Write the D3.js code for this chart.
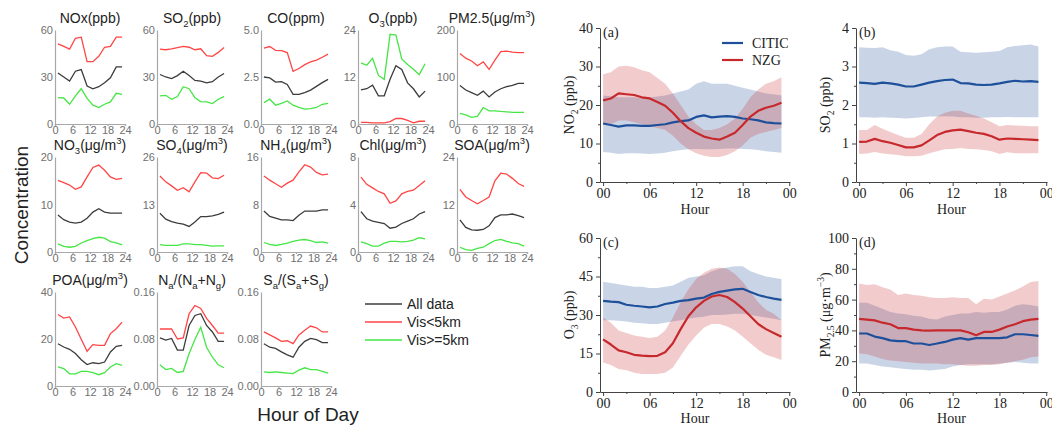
<!DOCTYPE html>
<html><head><meta charset="utf-8">
<script src="https://cdn.jsdelivr.net/npm/d3@7"></script>
<style>body{margin:0;background:#fff} svg{display:block}</style>
</head><body>
<svg id="c" width="1052" height="425"></svg>
<script>
// ---------- Left small multiples data (2-hourly) ----------
const hoursL = [1,3,5,7,9,11,13,15,17,19,21,23];
const xTicksL = [0,6,12,18,24];
const seriesNames = ["All data","Vis<5km","Vis>=5km"];

const noxAll  = [32.6,30.0,27.4,33.7,34.7,24.2,22.5,23.8,26.3,29.5,36.4,36.4];
const noxLow  = [51.2,49.5,47.8,54.7,55.4,39.8,39.8,43.2,49.0,49.5,55.4,55.4];
const noxHigh = [16.8,16.6,12.6,17.9,22.5,16.4,12.0,10.5,12.6,14.1,19.6,18.9];

const so2All  = [31.6,30.0,29.0,30.9,33.7,30.9,27.8,27.4,26.3,27.0,30.0,32.2];
const so2Low  = [47.8,47.4,48.0,48.8,49.5,49.0,47.4,48.0,43.6,43.2,45.7,48.8];
const so2High = [17.9,18.3,15.8,17.5,23.8,22.5,16.8,14.3,14.1,13.0,15.8,17.5];

const coAll  = [2.50,2.45,2.23,2.25,2.10,1.58,1.58,1.67,1.80,2.00,2.20,2.37];
const coLow  = [4.04,4.12,3.92,3.90,3.80,2.80,2.95,3.16,3.30,3.40,3.55,3.72];
const coHigh = [1.14,1.32,1.00,1.10,1.23,1.00,0.88,0.79,0.82,0.88,1.05,1.10];

const o3All  = [8.7,9.0,9.9,7.2,7.2,11.4,14.9,13.9,10.5,9.0,6.9,8.4];
const o3Low  = [0.4,0.4,0.3,0.3,0.3,0.6,1.4,1.4,0.9,0.3,0.7,0.7];
const o3High = [15.6,15.0,16.8,12.4,11.4,22.9,22.7,16.6,15.2,14.0,12.6,15.4];

const pmAll  = [82,72.3,66.7,61,70,57.5,68,75,79.3,82,86.3,86.3];
const pmLow  = [150,140,134,124,132,116,136,154,155,153,152,152];
const pmHigh = [22.5,19.6,14,16,35,28,28,26.7,26,24.6,24.6,24.6];

const no3All  = [7.8,6.8,6.3,6.1,6.3,7.1,8.4,9.1,8.4,8.2,8.2,8.2];
const no3Low  = [15.1,14.6,14.1,13.2,13.7,15.8,17.8,18.3,17.2,15.8,15.3,15.5];
const no3High = [1.7,1.2,1.0,1.2,1.9,2.4,2.8,3.1,2.9,2.2,1.9,1.5];

const so4All  = [10.6,9.0,8.3,7.9,7.6,7.0,8.2,9.7,9.7,9.9,10.3,10.9];
const so4Low  = [20.8,19.2,18.1,16.9,17.6,16.5,19.2,21.7,21.6,20.3,20.1,21.0];
const so4High = [2.0,1.8,1.8,1.8,2.2,2.2,2.0,2.0,1.8,1.6,1.7,1.7];

const nh4All  = [6.9,6.0,5.7,5.4,5.4,5.3,6.2,6.9,6.9,6.9,7.1,7.1];
const nh4Low  = [12.8,12.1,11.5,10.9,11.6,12.1,13.5,14.7,14.3,13.4,13.0,13.1];
const nh4High = [1.6,1.3,1.1,1.3,1.5,1.8,2.0,2.1,1.9,1.6,1.7,1.5];

const chlAll  = [3.4,2.8,2.6,2.5,2.4,2.0,2.1,2.4,2.6,2.8,3.2,3.4];
const chlLow  = [6.3,5.7,5.4,5.1,4.9,4.1,4.3,4.9,5.1,5.2,5.6,6.0];
const chlHigh = [0.85,0.7,0.5,0.5,0.75,0.9,0.9,0.85,0.9,1.0,1.2,1.1];

const soaAll  = [8.1,6.2,5.6,5.5,5.7,6.6,8.7,9.4,9.4,9.6,9.2,8.7];
const soaLow  = [15.8,13.9,13.0,12.2,13.0,13.9,18.0,19.9,19.7,18.6,17.3,16.6];
const soaHigh = [1.2,0.6,0.4,0.9,1.2,2.1,2.9,3.2,2.7,2.3,2.1,1.5];

const poaAll  = [18.0,16.6,15.6,13.8,11.2,9.1,9.9,9.5,10.2,14.5,16.9,17.3];
const poaLow  = [30.4,28.9,29.4,25.1,19.9,14.8,17.6,17.3,17.3,22.3,24.4,27.2];
const poaHigh = [8.1,7.4,5.2,5.2,6.2,6.2,5.7,4.8,5.7,8.1,9.5,8.8];

const naAll  = [0.082,0.078,0.081,0.061,0.061,0.103,0.120,0.123,0.103,0.092,0.076,0.076];
const naLow  = [0.097,0.097,0.097,0.080,0.082,0.123,0.137,0.132,0.115,0.103,0.090,0.090];
const naHigh = [0.036,0.028,0.030,0.023,0.025,0.055,0.079,0.100,0.066,0.049,0.036,0.031];

const saAll  = [0.072,0.066,0.064,0.058,0.053,0.049,0.066,0.076,0.081,0.079,0.074,0.074];
const saLow  = [0.092,0.087,0.082,0.076,0.077,0.072,0.087,0.095,0.102,0.099,0.092,0.092];
const saHigh = [0.024,0.023,0.024,0.023,0.022,0.021,0.027,0.031,0.028,0.028,0.025,0.022];

const yTicksNox=[0,30,60], yTicksSo2=[0,30,60], yTicksCo=[0,2.5,5], yTicksO3=[0,12,24], yTicksPm=[0,100,200];
const yTicksNo3=[0,10,20], yTicksSo4=[0,13,26], yTicksNh4=[0,8,16], yTicksChl=[0,4,8], yTicksSoa=[0,12,24];
const yTicksPoa=[0,20,40], yTicksNa=[0,0.08,0.16], yTicksSa=[0,0.08,0.16];

// ---------- Right panels data (hourly, mean and band) ----------
const hoursR = d3.range(0,24);
const xTickLabelsR = ["00","06","12","18","00"];
const siteNames = ["CITIC","NZG"];

const no2Citic   = [15.2,14.8,14.4,14.7,14.7,14.6,14.6,14.8,15.0,15.5,15.8,16.0,16.9,17.3,16.8,17.0,17.1,16.9,16.5,16.3,16.0,15.5,15.3,15.2];
const no2CiticHi = [22.5,22.3,22.0,22.0,22.0,21.8,22.0,22.2,22.5,23.0,23.5,24.0,25.5,26.2,25.5,25.5,25.5,25.0,24.5,24.0,23.5,23.0,22.8,22.5];
const no2CiticLo = [7.8,7.6,7.3,7.5,7.5,7.4,7.3,7.4,7.6,8.0,8.3,8.5,8.6,8.5,8.5,8.6,8.7,8.7,8.6,8.5,8.3,8.0,7.8,7.6];
const no2Nzg     = [21.2,21.7,23.0,22.8,22.6,22.0,21.7,20.8,19.8,18.0,15.8,14.0,12.8,11.8,11.3,11.0,11.8,12.8,14.8,17.0,18.5,19.3,19.8,20.6];
const no2NzgHi   = [28.0,28.5,30.0,30.2,29.8,29.0,28.5,27.0,25.5,23.0,20.0,17.0,15.0,13.5,13.5,14.0,15.0,16.5,19.0,22.0,24.0,25.5,26.2,27.2];
const no2NzgLo   = [15.0,15.0,16.0,16.0,15.5,15.0,14.5,14.0,13.5,12.0,10.0,8.5,7.5,6.8,6.5,6.5,7.0,8.0,9.5,11.5,12.5,13.0,13.5,14.0];

const so2Citic   = [2.58,2.57,2.55,2.58,2.56,2.53,2.48,2.48,2.53,2.58,2.62,2.65,2.66,2.57,2.56,2.53,2.52,2.53,2.56,2.60,2.63,2.61,2.62,2.60];
const so2CiticHi = [3.50,3.49,3.48,3.50,3.42,3.38,3.30,3.28,3.32,3.45,3.50,3.52,3.52,3.38,3.37,3.36,3.37,3.38,3.40,3.50,3.53,3.55,3.57,3.52];
const so2CiticLo = [1.68,1.68,1.67,1.68,1.67,1.66,1.65,1.66,1.68,1.70,1.70,1.71,1.70,1.68,1.68,1.67,1.67,1.68,1.68,1.69,1.68,1.68,1.68,1.68];
const so2Nzg     = [1.04,1.05,1.12,1.06,1.02,0.96,0.90,0.90,0.95,1.08,1.22,1.30,1.34,1.36,1.32,1.28,1.25,1.19,1.10,1.13,1.12,1.11,1.10,1.09];
const so2NzgHi   = [1.35,1.35,1.48,1.38,1.30,1.22,1.15,1.15,1.25,1.50,1.70,1.80,1.85,1.85,1.78,1.72,1.65,1.55,1.45,1.48,1.47,1.46,1.45,1.45];
const so2NzgLo   = [0.73,0.74,0.78,0.74,0.72,0.70,0.67,0.67,0.68,0.75,0.80,0.85,0.86,0.88,0.86,0.85,0.83,0.80,0.73,0.77,0.75,0.75,0.75,0.75];

const o3Citic   = [35.5,35.2,35.0,34.0,33.6,33.3,33.0,33.3,34.3,34.8,35.5,35.8,36.4,36.8,38.2,39.0,39.5,40.0,40.2,39.0,37.8,37.0,36.4,35.9];
const o3CiticHi = [43,42.5,42,41.5,41,41,40.5,40.5,41,41.5,43,44.5,45,45.5,47,48,48.5,49,49,47,46,45,44.5,44];
const o3CiticLo = [28,28,27.8,27.5,27,26.8,26.5,26.5,27,27.5,28,28.5,29,29.3,30,30,30.2,30.5,30.5,30,29.5,29,28.5,28];
const o3Nzg     = [20.5,18.5,16.2,15.5,14.5,14.2,14.0,14.1,15.5,19.0,24.5,29.5,33.0,35.5,37.2,37.8,37.0,35.0,32.5,29.5,26.5,24.5,23.0,21.5];
const o3NzgHi   = [29,27,24,23,22,21.5,21,21.5,24,29,35,40,44,46.5,48,48.5,48,46,43,39,35,32,30.5,28];
const o3NzgLo   = [11.5,10.5,9,8.5,7.5,7,7,7,7.5,9.5,14,18.5,22,25,26.5,26.5,25.5,24,21.5,19,16.5,14.5,13.5,12.5];

const pm25Citic   = [38,38,36,35,33.5,33,33,31.5,31.5,30.5,31.5,32.5,34,35,34,35,35,35,35,35.5,37.5,37.5,37,36.5];
const pm25CiticHi = [58,58,56,54,52,51,50.5,49.5,49,47.5,47,49,50,51,51,52,51.5,52,52,53.5,56,57,56.5,55.5];
const pm25CiticLo = [18.5,18.5,17.5,16.5,16,15.5,15,14.5,14.5,14,14.5,15,16.5,17.5,18,18,18,18,18.5,19,19.5,19,18.5,18.5];
const pm25Nzg     = [47.5,47,46.5,45,44,41.5,41.5,40.5,40,39.8,40,40,40,40,38.8,36.8,39,39,40.5,42.5,44,46,47,47.5];
const pm25NzgHi   = [70.5,69.5,70,68,66.5,63,64,63,62.5,61.5,61,61,61.5,61,61,57,60.5,60,62,64,66,68.5,71.5,72];
const pm25NzgLo   = [25,24.5,23,21.5,20.5,20,19.5,19,18.5,18.5,18.5,18,18,17.5,17,17,17.5,17.5,18,19,20,21,22.5,23];

const yTicksNo2R=[0,10,20,30,40], yTicksSo2R=[0,1,2,3,4], yTicksO3R=[0,15,30,45,60], yTicksPmR=[0,20,40,60,80,100];

// ---------- helpers ----------
const svg = d3.select("#c");
const SANS = "'Liberation Sans', Arial, sans-serif";
const SERIF = "'Liberation Serif', 'Times New Roman', serif";

function rich(textSel, parts, fs) {
  let cur = 0;
  parts.forEach(p => {
    const kind = p[1] || "n";
    const target = kind === "sub" ? fs*0.3 : kind === "sup" ? -fs*0.42 : 0;
    const ts = textSel.append("tspan").text(p[0]);
    if (kind !== "n") ts.attr("font-size", fs*0.68);
    if (target !== cur) ts.attr("dy", target - cur);
    cur = target;
  });
}

// ---------- Left panels ----------
const leftColors = ["#3c3c3c", "#ff4545", "#45e645"];
const leftPanels = [
  {t:[["NOx(ppb)"]], ticks:yTicksNox, f:"d", s:[noxAll,noxLow,noxHigh]},
  {t:[["SO"],["2","sub"],["(ppb)"]], ticks:yTicksSo2, f:"d", s:[so2All,so2Low,so2High]},
  {t:[["CO(ppm)"]], ticks:yTicksCo, f:".1f", s:[coAll,coLow,coHigh]},
  {t:[["O"],["3","sub"],["(ppb)"]], ticks:yTicksO3, f:"d", s:[o3All,o3Low,o3High]},
  {t:[["PM2.5(μg/m"],["3","sup"],[")"]], ticks:yTicksPm, f:"d", s:[pmAll,pmLow,pmHigh]},
  {t:[["NO"],["3","sub"],["(μg/m"],["3","sup"],[")"]], ticks:yTicksNo3, f:"d", s:[no3All,no3Low,no3High]},
  {t:[["SO"],["4","sub"],["(μg/m"],["3","sup"],[")"]], ticks:yTicksSo4, f:"d", s:[so4All,so4Low,so4High]},
  {t:[["NH"],["4","sub"],["(μg/m"],["3","sup"],[")"]], ticks:yTicksNh4, f:"d", s:[nh4All,nh4Low,nh4High]},
  {t:[["Chl(μg/m"],["3","sup"],[")"]], ticks:yTicksChl, f:"d", s:[chlAll,chlLow,chlHigh]},
  {t:[["SOA(μg/m"],["3","sup"],[")"]], ticks:yTicksSoa, f:"d", s:[soaAll,soaLow,soaHigh]},
  {t:[["POA(μg/m"],["3","sup"],[")"]], ticks:yTicksPoa, f:"d", s:[poaAll,poaLow,poaHigh]},
  {t:[["N"],["a","sub"],["/(N"],["a","sub"],["+N"],["g","sub"],[")"]], ticks:yTicksNa, f:".2f", s:[naAll,naLow,naHigh]},
  {t:[["S"],["a","sub"],["/(S"],["a","sub"],["+S"],["g","sub"],[")"]], ticks:yTicksSa, f:".2f", s:[saAll,saLow,saHigh]}
];
const colX = [55,157,261,358,457], colW = 70;
const rowY = [[30,124],[157,252],[292,386]];

leftPanels.forEach((p, i) => {
  const c = i % 5, r = Math.floor(i / 5);
  const x0 = colX[c], [y0, y1] = rowY[r];
  const x = d3.scaleLinear().domain([0,24]).range([x0, x0+colW]);
  const y = d3.scaleLinear().domain([0, d3.max(p.ticks)]).range([y1, y0]);
  const g = svg.append("g");
  const xa = g.append("g").attr("transform",`translate(0,${y1})`)
    .call(d3.axisBottom(x).tickValues(xTicksL).tickSize(2).tickPadding(1).tickFormat(d3.format("d")));
  const ya = g.append("g").attr("transform",`translate(${x0},0)`)
    .call(d3.axisLeft(y).tickValues(p.ticks).tickSize(0).tickPadding(2).tickFormat(d3.format(p.f)));
  [xa, ya].forEach(a => {
    a.selectAll("path,line").attr("stroke","#a8a8a8").attr("stroke-width",1.2);
    a.selectAll("text").attr("fill","#707070").attr("font-family",SANS).attr("font-size",11);
  });
  xa.selectAll("text").attr("dy","0.62em");
  const line = d3.line().x((d,j)=>x(hoursL[j])).y(d=>y(d));
  [0,1,2].forEach(k => {
    g.append("path").datum(p.s[k]).attr("d", line).attr("fill","none")
      .attr("stroke", leftColors[k]).attr("stroke-width",1.3);
  });
  const tt = g.append("text").attr("x", x0+colW/2).attr("y", y0-7).attr("text-anchor","middle")
    .attr("font-family",SANS).attr("font-size",14).attr("fill","#222");
  rich(tt, p.t, 14);
});

// left legend
seriesNames.forEach((n, k) => {
  const ly = 304 + k*18;
  svg.append("line").attr("x1",365).attr("x2",402).attr("y1",ly).attr("y2",ly)
    .attr("stroke",leftColors[k]).attr("stroke-width",1.3);
  svg.append("text").attr("x",407).attr("y",ly).attr("dy","0.35em").text(n)
    .attr("font-family",SANS).attr("font-size",14).attr("fill","#222");
});
svg.append("text").attr("transform","translate(28,205) rotate(-90)").attr("text-anchor","middle")
  .attr("font-family",SANS).attr("font-size",19).attr("fill","#222").text("Concentration");
svg.append("text").attr("x",308).attr("y",421).attr("text-anchor","middle")
  .attr("font-family",SANS).attr("font-size",19).attr("fill","#222").text("Hour of Day");

// ---------- Right panels ----------
const lineColors = ["#1d4f9a", "#c7282c"];
const rightPanels = [
  {lab:"(a)", yl:[["NO"],["2","sub"],[" (ppb)"]], ticks:yTicksNo2R, m:[no2Citic,no2Nzg], hi:[no2CiticHi,no2NzgHi], lo:[no2CiticLo,no2NzgLo], legend:true},
  {lab:"(b)", yl:[["SO"],["2","sub"],[" (ppb)"]], ticks:yTicksSo2R, m:[so2Citic,so2Nzg], hi:[so2CiticHi,so2NzgHi], lo:[so2CiticLo,so2NzgLo]},
  {lab:"(c)", yl:[["O"],["3","sub"],[" (ppb)"]], ticks:yTicksO3R, m:[o3Citic,o3Nzg], hi:[o3CiticHi,o3NzgHi], lo:[o3CiticLo,o3NzgLo]},
  {lab:"(d)", yl:[["PM"],["2.5","sub"],[" (μg·m"],["−3","sup"],[")"]], ticks:yTicksPmR, m:[pm25Citic,pm25Nzg], hi:[pm25CiticHi,pm25NzgHi], lo:[pm25CiticLo,pm25NzgLo]}
];
const rx = [[600,790],[856,1047]], ry = [[28,182],[238,392]];

rightPanels.forEach((p, i) => {
  const [xa0, xa1] = rx[i % 2], [ya0, ya1] = ry[Math.floor(i/2)];
  const x = d3.scaleLinear().domain([-0.4, 24.1]).range([xa0, xa1]);
  const ymax = d3.max(p.ticks);
  const y = d3.scaleLinear().domain([0, ymax]).range([ya1, ya0]);
  const step = p.ticks[1] - p.ticks[0];
  const g = svg.append("g");
  // bands
  [0,1].forEach(k => {
    const area = d3.area().x((d,j)=>x(hoursR[j])).y0((d,j)=>y(p.lo[k][j])).y1(d=>y(d));
    g.append("path").datum(p.hi[k]).attr("d", area).attr("fill", lineColors[k]).attr("fill-opacity", 0.24);
  });
  [0,1].forEach(k => {
    const line = d3.line().x((d,j)=>x(hoursR[j])).y(d=>y(d));
    g.append("path").datum(p.m[k]).attr("d", line).attr("fill","none")
      .attr("stroke", lineColors[k]).attr("stroke-width", 2.2).attr("stroke-linejoin","round");
  });
  // axes
  const xAx = g.append("g").attr("transform",`translate(0,${ya1})`)
    .call(d3.axisBottom(x).tickValues([0,6,12,18,24]).tickSize(4).tickSizeOuter(0).tickPadding(2)
      .tickFormat((d,j)=>xTickLabelsR[j]));
  g.append("g").attr("transform",`translate(0,${ya1})`)
    .call(d3.axisBottom(x).tickValues([3,9,15,21]).tickSize(2).tickFormat("")).select(".domain").remove();
  const yAx = g.append("g").attr("transform",`translate(${xa0},0)`)
    .call(d3.axisLeft(y).tickValues(p.ticks).tickSize(4).tickSizeOuter(0).tickPadding(3).tickFormat(d3.format("d")));
  g.append("g").attr("transform",`translate(${xa0},0)`)
    .call(d3.axisLeft(y).tickValues(p.ticks.slice(1).map(v=>v-step/2)).tickSize(2).tickFormat("")).select(".domain").remove();
  g.selectAll(".domain,.tick line").attr("stroke","#444").attr("stroke-width",1);
  [xAx, yAx].forEach(a => a.selectAll("text").attr("fill","#222").attr("font-family",SERIF).attr("font-size",14));
  g.append("text").attr("x",(xa0+xa1)/2).attr("y",Math.min(ya1+32, 423)).attr("text-anchor","middle")
    .attr("font-family",SERIF).attr("font-size",14).attr("fill","#222").text("Hour");
  g.append("text").attr("x",xa0+3).attr("y",ya0+9).attr("font-family",SERIF).attr("font-size",14)
    .attr("fill","#222").text(p.lab);
  const yt = g.append("text").attr("transform",`translate(${xa0-26},${(ya0+ya1)/2}) rotate(-90)`)
    .attr("text-anchor","middle").attr("font-family",SERIF).attr("font-size",14).attr("fill","#222");
  rich(yt, p.yl, 14);
  if (p.legend) {
    siteNames.forEach((n,k) => {
      const ly = 43 + k*17;
      g.append("line").attr("x1",722).attr("x2",743).attr("y1",ly).attr("y2",ly)
        .attr("stroke",lineColors[k]).attr("stroke-width",2.2);
      g.append("text").attr("x",752).attr("y",ly).attr("dy","0.35em").text(n)
        .attr("font-family",SERIF).attr("font-size",14).attr("fill","#222");
    });
  }
});
</script></body></html>
